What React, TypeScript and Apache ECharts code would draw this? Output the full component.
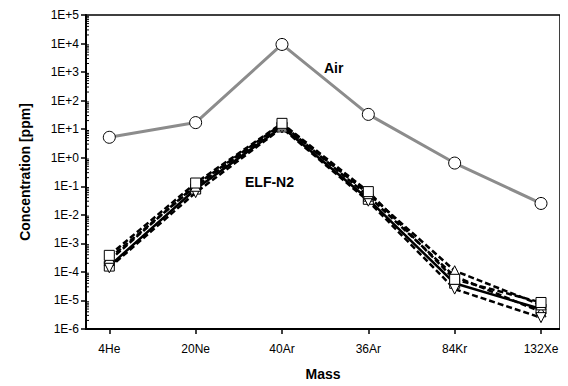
import React, { useEffect, useRef } from "react";
import * as echarts from "echarts";

const categories = ["4He", "20Ne", "40Ar", "36Ar", "84Kr", "132Xe"];
const yTickLabels = ["1E-6", "1E-5", "1E-4", "1E-3", "1E-2", "1E-1", "1E+0", "1E+1", "1E+2", "1E+3", "1E+4", "1E+5"];

const airValues = [5.2, 17, 9300, 33, 0.65, 0.025];
const elfSquare = [3.8e-4, 0.13, 16, 0.065, 5.5e-5, 8.5e-6];
const elfTriUp = [3.0e-4, 0.1, 14, 0.055, 1.1e-4, 7e-6];
const elfTriDown = [1.4e-4, 0.06, 11, 0.03, 2.5e-5, 2.5e-6];
const elfSolid = [1.6e-4, 0.08, 12, 0.035, 4e-5, 5e-6];
const elfDashed = [2.5e-4, 0.11, 15, 0.045, 7e-5, 4e-6];

const X_MIN = -0.27;
const X_MAX = 5.22;

const minorTickValues: number[] = [];
for (let n = -6; n < 5; n++) {
  for (let k = 2; k <= 9; k++) minorTickValues.push(k * Math.pow(10, n));
}

const toPairs = (vals: number[]) => vals.map((v, i) => [i, v]);

export default function App() {
  const ref = useRef<HTMLDivElement>(null);
  useEffect(() => {
    if (!ref.current) return;
    const chart = echarts.init(ref.current, null, { renderer: "svg" });
    const font = "'Liberation Sans', Arial, sans-serif";
    const elfSeries = (data: number[], symbol: string, rotate: number, dashed: boolean) => ({
      type: "line",
      data: toPairs(data),
      symbol,
      symbolRotate: rotate,
      symbolSize: 10,
      itemStyle: { color: "#fff", borderColor: "#000", borderWidth: 1 },
      lineStyle: { color: "#000", width: 2.5, type: dashed ? [6, 3] : "solid" },
      z: 3,
    });
    chart.setOption({
      animation: false,
      grid: {
        left: 78,
        right: 8,
        top: 7,
        bottom: 54,
        show: true,
        borderColor: "#000",
        borderWidth: 1.5,
        backgroundColor: "transparent",
      },
      xAxis: {
        type: "value",
        min: X_MIN,
        max: X_MAX,
        name: "Mass",
        nameLocation: "middle",
        nameGap: 38,
        nameTextStyle: { fontFamily: font, fontSize: 14, fontWeight: "bold", color: "#000" },
        axisLine: { show: true, onZero: false, lineStyle: { color: "#000", width: 2 } },
        axisTick: { show: true, length: 5, customValues: [0, 1, 2, 3, 4, 5], lineStyle: { color: "#000", width: 1.5 } },
        axisLabel: {
          customValues: [0, 1, 2, 3, 4, 5],
          formatter: (v: number) => categories[Math.round(v)] ?? "",
          fontFamily: font,
          fontSize: 12,
          color: "#000",
          margin: 14,
        },
        splitLine: { show: false },
      },
      yAxis: {
        type: "log",
        logBase: 10,
        min: 1e-6,
        max: 1e5,
        interval: 1,
        name: "Concentration [ppm]",
        nameLocation: "middle",
        nameGap: 54,
        nameTextStyle: { fontFamily: font, fontSize: 14, fontWeight: "bold", color: "#000" },
        axisLine: { show: true, onZero: false, lineStyle: { color: "#000", width: 2 } },
        axisTick: { show: true, length: 5, lineStyle: { color: "#000", width: 1.5 } },
        axisLabel: {
          fontFamily: font,
          fontSize: 12,
          color: "#000",
          margin: 7,
          formatter: (v: number) => {
            const e = Math.round(Math.log10(v));
            return yTickLabels[e + 6] ?? "";
          },
        },
        splitLine: { show: false },
      },
      series: [
        {
          type: "custom",
          data: minorTickValues.map((v) => [X_MIN, v]),
          renderItem: (params: any, api: any) => {
            const p = api.coord([api.value(0), api.value(1)]);
            return {
              type: "line",
              shape: { x1: p[0], y1: p[1], x2: p[0] + 3, y2: p[1] },
              style: { stroke: "#000", lineWidth: 1 },
            };
          },
          silent: true,
          z: 1,
        },
        elfSeries(elfSolid, "rect", 0, false),
        elfSeries(elfDashed, "triangle", 0, true),
        elfSeries(elfTriDown, "triangle", 180, true),
        elfSeries(elfTriUp, "triangle", 0, true),
        elfSeries(elfSquare, "rect", 0, true),
        {
          type: "line",
          data: toPairs(airValues),
          symbol: "circle",
          symbolSize: 12,
          itemStyle: { color: "#fff", borderColor: "#000", borderWidth: 1 },
          lineStyle: { color: "#8c8c8c", width: 3 },
          z: 4,
        },
      ],
      graphic: [
        {
          type: "text",
          left: 316,
          top: 53,
          style: { text: "Air", fontFamily: font, fontSize: 14, fontWeight: "bold", fill: "#000" },
        },
        {
          type: "text",
          left: 237,
          top: 167,
          style: { text: "ELF-N2", fontFamily: font, fontSize: 14, fontWeight: "bold", fill: "#000" },
        },
      ],
    });
    return () => chart.dispose();
  }, []);
  return <div ref={ref} style={{ width: 560, height: 378 }} />;
}
